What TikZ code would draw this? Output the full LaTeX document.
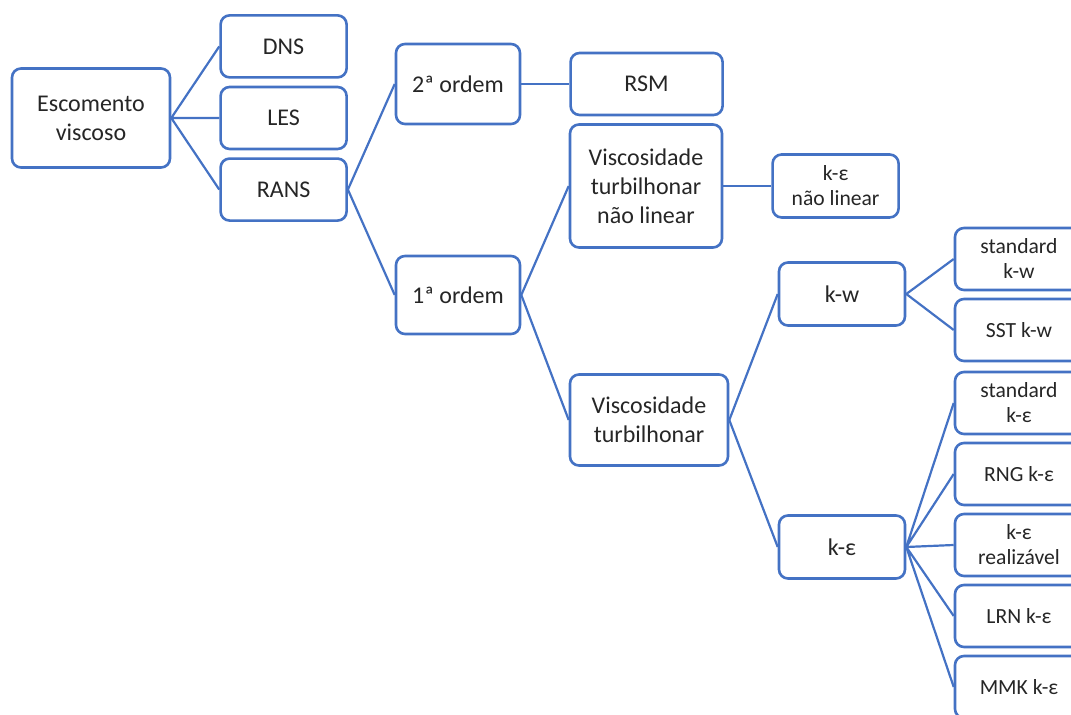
\documentclass[tikz,border=0pt]{standalone}
\usepackage{fontspec}
\setmainfont{Carlito}
\usepackage{xcolor}
\usepackage{tikz}
\usetikzlibrary{positioning}

\definecolor{boxblue}{HTML}{4472C4}
\definecolor{txtgray}{HTML}{262626}

\begin{document}
\begin{tikzpicture}[x=0.5pt, y=-0.5pt, font=\fontsize{12}{14.5}\selectfont, text=txtgray]
    \tikzstyle{box} = [rectangle, draw=boxblue, line width=1.3pt, rounded corners=4.5pt, fill=white, align=center, inner sep=2pt, minimum width=63pt, minimum height=31pt]
    \tikzstyle{leaf} = [box, minimum width=64pt, font=\fontsize{10.8}{12.5}\selectfont]
    \tikzstyle{link} = [draw=boxblue, line width=1.1pt]

    \clip (0,0) rectangle (1071,715);

    % Root
    \node [box, minimum width=79pt, minimum height=49.5pt] (esc) at (91,118) {Escomento\\viscoso};
    \node [box, right=24pt of esc] (les) {LES};
    \node [box, above=3.5pt of les] (dns) {DNS};
    \node [box, below=3.5pt of les] (rans) {RANS};

    % RANS
    \node [box, minimum width=62pt, minimum height=40pt] (ordem2) at (458,84) {2ª ordem};
    \node [box, minimum width=62pt, minimum height=39pt] (ordem1) at (458,295) {1ª ordem};
    \node [box, minimum width=76pt, right=24pt of ordem2] (rsm) {RSM};

    % 1a ordem
    \node [box, minimum width=76pt, minimum height=61.5pt] (vtnl) at (646,186) {Viscosidade\\turbilhonar\\não linear};
    \node [leaf, minimum width=63pt, minimum height=31.5pt, right=24pt of vtnl] (kenl) {k-ε\\não linear};
    \node [box, minimum width=79pt, minimum height=45.5pt] (vt) at (649,420) {Viscosidade\\turbilhonar};

    % Viscosidade turbilhonar
    \node [box, minimum height=31.5pt] (kw) at (842,294) {k-w};
    \node [box, minimum height=31.5pt] (ke) at (842,547) {k-ε};

    % k-w
    \node [leaf] (stdkw) at (1019,259) {standard\\k-w};
    \node [leaf, below=3.2pt of stdkw] (sstkw) {SST k-w};

    % k-e
    \node [leaf] (stdke) at (1019,403) {standard\\k-ε};
    \node [leaf, below=3.2pt of stdke] (rngke) {RNG k-ε};
    \node [leaf, below=3.2pt of rngke] (realke) {k-ε\\realizável};
    \node [leaf, below=3.2pt of realke] (lrnke) {LRN k-ε};
    \node [leaf, below=3.2pt of lrnke] (mmkke) {MMK k-ε};

    % Connections
    \draw [link] (esc.east) -- (dns.west)  (esc.east) -- (les.west)  (esc.east) -- (rans.west);
    \draw [link] (rans.east) -- (ordem2.west)  (rans.east) -- (ordem1.west);
    \draw [link] (ordem2.east) -- (rsm.west);
    \draw [link] (ordem1.east) -- (vtnl.west)  (ordem1.east) -- (vt.west);
    \draw [link] (vtnl.east) -- (kenl.west);
    \draw [link] (vt.east) -- (kw.west)  (vt.east) -- (ke.west);
    \draw [link] (kw.east) -- (stdkw.west)  (kw.east) -- (sstkw.west);
    \draw [link] (ke.east) -- (stdke.west)  (ke.east) -- (rngke.west)  (ke.east) -- (realke.west)
                 (ke.east) -- (lrnke.west)  (ke.east) -- (mmkke.west);
\end{tikzpicture}
\end{document}
